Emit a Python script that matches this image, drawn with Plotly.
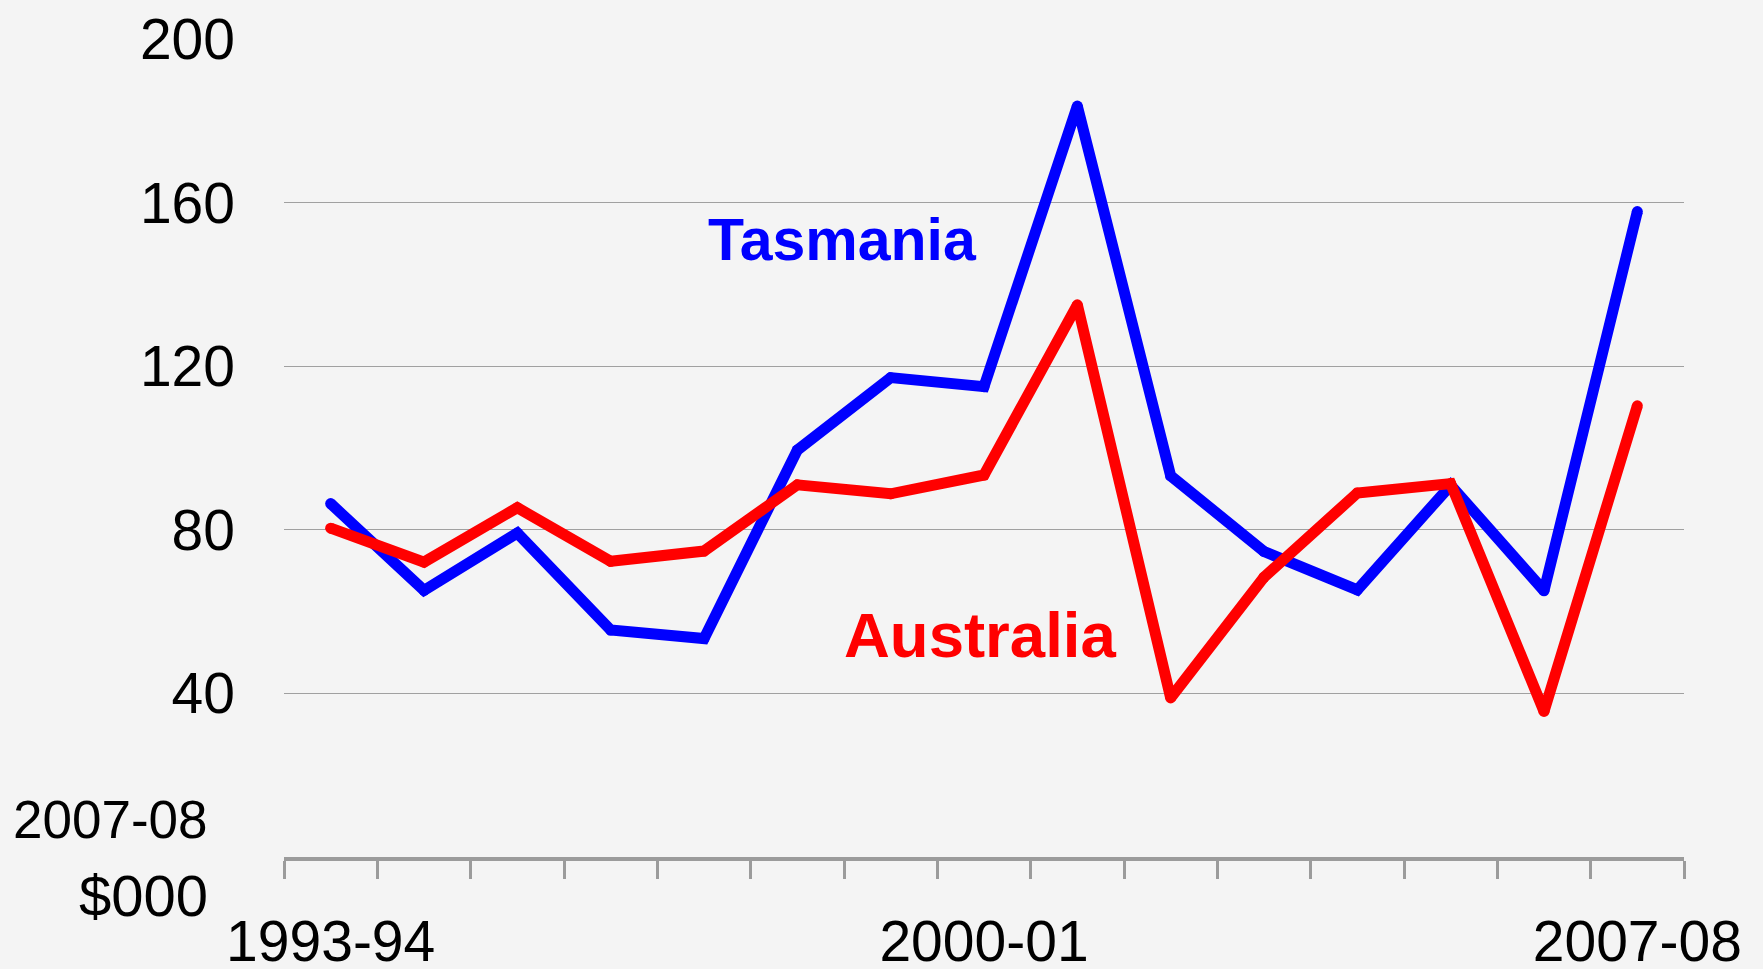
import plotly.graph_objects as go

years = ["1993-94", "1994-95", "1995-96", "1996-97", "1997-98", "1998-99", "1999-00",
         "2000-01", "2001-02", "2002-03", "2003-04", "2004-05", "2005-06", "2006-07", "2007-08"]
tasmania = [86.4, 65.2, 79.2, 55.5, 53.4, 99.5, 117.2, 115.0, 183.6, 93.2, 74.7, 65.3, 90.9, 65.1, 157.8]
australia = [80.4, 72.1, 85.4, 72.3, 74.8, 91.0, 88.8, 93.4, 135.0, 38.9, 68.4, 89.0, 91.3, 35.6, 110.3]
shown_labels = ["1993-94", "2000-01", "2007-08"]
y_ticks = [40, 80, 120, 160, 200]

FONT = "Arial, Liberation Sans, sans-serif"
BG = "#f4f4f4"
AXIS_GREY = "#9b9b9b"
LW = 11

fig = go.Figure()
fig.add_trace(go.Scatter(x=years, y=tasmania, mode="lines+markers", name="Tasmania",
                         line=dict(color="#0000ff", width=LW),
                         marker=dict(color="#0000ff", size=LW, line=dict(width=0)),
                         showlegend=False))
fig.add_trace(go.Scatter(x=years, y=australia, mode="lines+markers", name="Australia",
                         line=dict(color="#ff0000", width=LW),
                         marker=dict(color="#ff0000", size=LW, line=dict(width=0)),
                         showlegend=False))

W, H = 1763, 969
L, R, T, B = 284, 79, 39, 112
pw, ph = W - L - R, H - T - B

def px(x):
    return (x - L) / pw

def py(y):
    return (H - B - y) / ph

fig.update_layout(
    width=W, height=H,
    margin=dict(l=L, r=R, t=T, b=B, autoexpand=False),
    paper_bgcolor=BG, plot_bgcolor=BG,
    font=dict(family=FONT, color="#000000"),
    xaxis=dict(
        type="category",
        tickmode="array", tickvals=years,
        ticktext=[y if y in shown_labels else "" for y in years],
        tickson="boundaries", tickangle=0, automargin=False,
        ticks="outside", ticklen=18, tickwidth=3, tickcolor=AXIS_GREY,
        showline=True, linecolor=AXIS_GREY, linewidth=4,
        showgrid=False, zeroline=False,
        tickfont=dict(size=57, family=FONT, color="#000000"),
        ticklabelstandoff=32,
        range=[-0.5, len(years) - 0.5],
    ),
    yaxis=dict(
        range=[0, 200], automargin=False,
        tickmode="array", tickvals=y_ticks,
        ticktext=[str(v) for v in y_ticks],
        showgrid=True, gridcolor="#a0a0a0", gridwidth=1.3,
        zeroline=False, showline=False, ticks="",
        tickfont=dict(size=57, family=FONT, color="#000000"),
        ticklabelstandoff=48,
    ),
    annotations=[
        dict(text="<b>Tasmania</b>", x=px(842), y=py(240), xref="paper", yref="paper",
             xanchor="center", yanchor="middle", showarrow=False,
             font=dict(size=59, color="#0000ff", family=FONT)),
        dict(text="<b>Australia</b>", x=px(980), y=py(635), xref="paper", yref="paper",
             xanchor="center", yanchor="middle", showarrow=False,
             font=dict(size=63.5, color="#ff0000", family=FONT)),
        dict(text="2007-08", x=px(210), y=py(819), xref="paper", yref="paper",
             xanchor="right", yanchor="middle", showarrow=False,
             font=dict(size=53, color="#000000", family=FONT)),
        dict(text="$000", x=px(210), y=py(895), xref="paper", yref="paper",
             xanchor="right", yanchor="middle", showarrow=False,
             font=dict(size=58, color="#000000", family=FONT)),
    ],
)

fig.write_html("out.html", config={"displayModeBar": False},
               post_script="document.body.style.margin='0';")
